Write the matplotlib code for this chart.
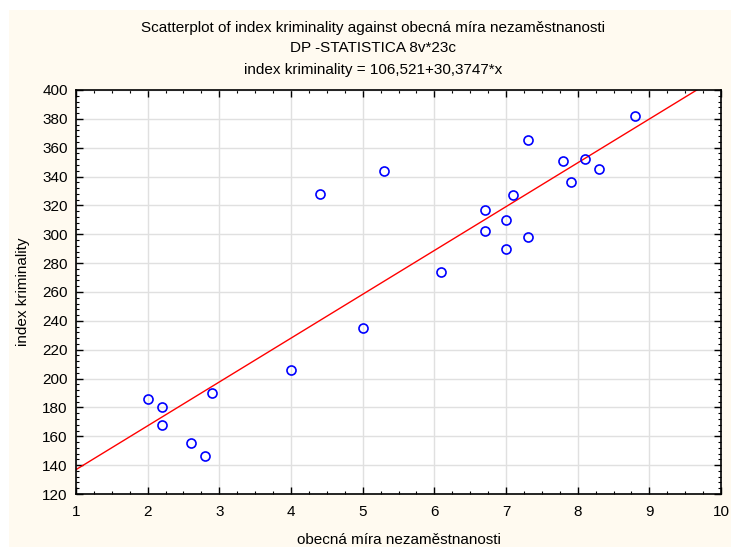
import matplotlib.pyplot as plt
import matplotlib.patches as mpatches
from matplotlib.ticker import MultipleLocator, AutoMinorLocator
import numpy as np

plt.rcParams['font.family'] = ['Liberation Sans', 'DejaVu Sans']

# obecná míra nezaměstnanosti (x) and index kriminality (y), 23 cases
unemployment = [2.0, 2.2, 2.2, 2.6, 2.8, 2.9, 4.0, 4.4, 5.0, 5.3, 6.1, 6.7,
                6.7, 7.0, 7.0, 7.1, 7.3, 7.3, 7.8, 7.9, 8.1, 8.3, 8.8]
crime = [186, 180, 168, 155, 146, 190, 206, 328, 235, 344, 274, 317,
         302, 310, 290, 327, 365, 298, 351, 336, 352, 345, 382]

intercept = 106.521
slope = 30.3747

fig = plt.figure(figsize=(7.31, 5.47), dpi=100)
fig.patch.set_facecolor('#fffaf0')
# thin white strips along the top and left edge
fig.patches.append(mpatches.Rectangle((0, 1 - 10 / 547), 1, 10 / 547,
                                      transform=fig.transFigure,
                                      facecolor='white', edgecolor='none'))
fig.patches.append(mpatches.Rectangle((0, 0), 9 / 731, 1,
                                      transform=fig.transFigure,
                                      facecolor='white', edgecolor='none'))

ax = fig.add_axes([76 / 731, 1 - 494 / 547, 645 / 731, 404 / 547])
ax.set_facecolor('white')

xs = np.array([1, 10])
ax.plot(xs, intercept + slope * xs, color='red', lw=1, zorder=2)
ax.plot(unemployment, crime, 'o', mfc='none', mec='blue', mew=1.2,
        ms=6.5, zorder=3)

ax.set_xlim(1, 10)
ax.set_ylim(120, 400)
ax.xaxis.set_major_locator(MultipleLocator(1))
ax.yaxis.set_major_locator(MultipleLocator(20))
ax.xaxis.set_minor_locator(AutoMinorLocator(4))
ax.yaxis.set_minor_locator(AutoMinorLocator(5))
ax.grid(True, which='major', color='#e0e0e0', lw=1, zorder=0)
ax.set_axisbelow(True)
ax.tick_params(which='both', direction='in', top=True, right=True,
               labelsize=11, colors='black')
ax.tick_params(axis='x', which='major', pad=8)
ax.tick_params(axis='y', which='major', pad=6)
ax.tick_params(which='major', length=5, width=1)
ax.tick_params(which='minor', length=2.5, width=0.8)
for s in ax.spines.values():
    s.set_linewidth(1.2)

ax.set_xlabel('obecná míra nezaměstnanosti', fontsize=11, labelpad=10)
ax.set_ylabel('index kriminality', fontsize=11, labelpad=9)

tx = 373 / 731
fig.text(tx, 1 - 28 / 547, 'Scatterplot of index kriminality against obecná míra nezaměstnanosti',
         ha='center', va='center', fontsize=11)
fig.text(tx, 1 - 48 / 547, 'DP -STATISTICA 8v*23c', ha='center', va='center', fontsize=11)
fig.text(tx, 1 - 70 / 547, 'index kriminality = 106,521+30,3747*x',
         ha='center', va='center', fontsize=11)

fig.savefig('out.png', dpi=100, facecolor=fig.get_facecolor())
